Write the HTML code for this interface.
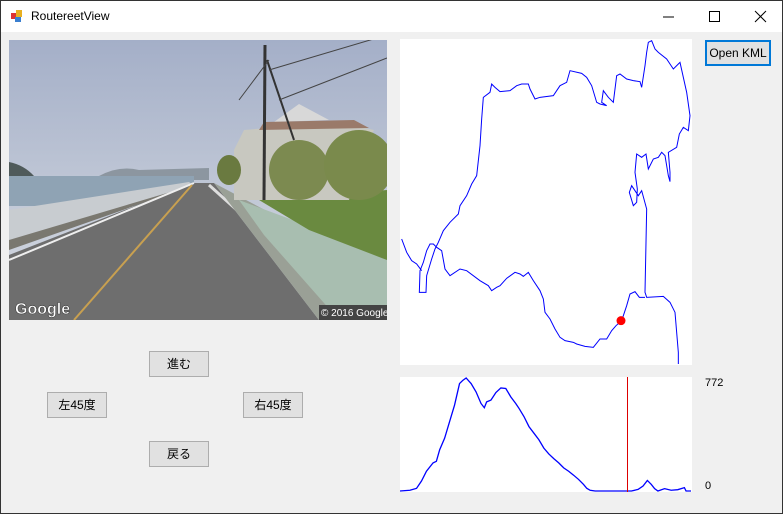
<!DOCTYPE html>
<html><head><meta charset="utf-8">
<style>
body{margin:0;width:783px;height:514px;overflow:hidden;background:#f0f0f0;font-family:"Liberation Sans","Noto Sans CJK JP",sans-serif;position:relative}
#win{position:absolute;left:0;top:0;width:781px;height:512px;border:1px solid #333;background:#f0f0f0}
#titlebar{position:absolute;left:0;top:0;width:781px;height:31px;background:#fff}
#title{position:absolute;left:30px;top:8px;font-size:12px;color:#000}
.btn{position:absolute;width:58px;height:24px;border:1px solid #adadad;background:#e1e1e1;font-size:12px;text-align:center;line-height:24px;color:#000}
.lbl{position:absolute;font-size:11px;color:#000}
svg{position:absolute}
</style></head><body>
<div id="win">
<div id="titlebar">
 <svg style="left:9px;top:8px" width="14" height="14"><rect x="1" y="4" width="6" height="6" fill="#d33"/><rect x="6" y="1" width="6" height="7" fill="#e8b020"/><rect x="5" y="8" width="6" height="5" fill="#3a7fd0"/></svg>
 <div id="title">RoutereetView</div>
 <svg style="left:655px;top:8px" width="120" height="16"><line x1="7" y1="8" x2="18" y2="8" stroke="#000"/><rect x="53.5" y="2.5" width="10" height="10" fill="none" stroke="#000"/><line x1="99" y1="2" x2="110" y2="13" stroke="#000"/><line x1="110" y1="2" x2="99" y2="13" stroke="#000"/></svg>
</div>

<svg style="left:8px;top:39px" width="378" height="280">
 <defs><linearGradient id="sky" x1="0" y1="0" x2="0" y2="1"><stop offset="0" stop-color="#a4afc8"/><stop offset="1" stop-color="#d8dce2"/></linearGradient></defs>
 <rect width="378" height="280" fill="url(#sky)"/>
 <path d="M0,122 Q15,125 25,136 L0,137Z" fill="#4f5a5a"/>
 <path d="M90,136 Q110,125 130,130 L200,128 L200,140 L90,140Z" fill="#8c96a0"/>
 <rect x="0" y="136" width="185" height="30" fill="#8fa3b4"/>
 <path d="M0,170 L180,142 L185,146 L0,200Z" fill="#c8ccd0"/>
 <path d="M0,200 L185,145 L0,210Z" fill="#7a7870"/>
 <path d="M0,215 L185,143 L205,143 L310,280 L0,280Z" fill="#6e6e6e"/>
 <path d="M0,220 L185,143" stroke="#eee" stroke-width="2"/>
 <path d="M65,280 L183,145" stroke="#c8a050" stroke-width="2"/>
 <path d="M200,145 L250,190" stroke="#ddd" stroke-width="3"/>
 <path d="M205,143 L378,235 L378,280 L310,280Z" fill="#9aa096"/>
 <path d="M230,160 L378,215 L378,280 L330,280 L255,195Z" fill="#a8beb0"/>
 <path d="M250,160 L378,150 L378,220 L300,190Z" fill="#6a8a40"/>
 <path d="M225,110 L235,90 L330,82 L365,90 L360,100 L340,160 L225,160Z" fill="#c8c8c0"/>
 <path d="M265,82 L290,64 L320,80Z" fill="#d8d8d8"/>
 <path d="M255,82 L345,80 L360,88 L250,90Z" fill="#9a7a6a"/>
 <ellipse cx="290" cy="130" rx="30" ry="30" fill="#7c8a50"/>
 <ellipse cx="350" cy="125" rx="35" ry="35" fill="#7a8a4c"/>
 <ellipse cx="220" cy="130" rx="12" ry="15" fill="#6a7a40"/>
 <line x1="256" y1="5" x2="255" y2="160" stroke="#333" stroke-width="3"/>
 <line x1="258" y1="20" x2="285" y2="100" stroke="#333" stroke-width="2"/>
 <path d="M260,30 L378,-5 M270,60 L378,18 M230,60 L260,20" stroke="#444" stroke-width="1" fill="none"/>
 <text x="6" y="274" font-size="16" font-weight="bold" fill="#fff" stroke="#333" stroke-width="0.5">Google</text>
 <rect x="310" y="265" width="68" height="15" fill="#444"/>
 <text x="312" y="276" font-size="10" fill="#fff">© 2016 Google</text>
</svg>

<div class="btn" style="left:148px;top:350px">進む</div>
<div class="btn" style="left:46px;top:391px">左45度</div>
<div class="btn" style="left:242px;top:391px">右45度</div>
<div class="btn" style="left:148px;top:440px">戻る</div>
<div class="btn" style="left:704px;top:39px;width:62px;height:22px;line-height:22px;border:2px solid #0078d7">Open KML</div>

<svg id="map" style="left:399px;top:38px" width="292" height="326"></svg>
<svg id="elev" style="left:399px;top:376px" width="292" height="115"></svg>
<div class="lbl" style="left:704px;top:376px">772</div>
<div class="lbl" style="left:704px;top:479px">0</div>
</div>
<script>
const distances=[0,30,50,65,80,100,110,120,135,150,165,180,190,200,215,230,245,255,262,275,290,305,320,335,350,360,375,390,405,420,435,450,465,480,495,510,525,540,555,565,575,590,700,720,735,748,760,770,780,800,820,840,860,865,880];
const elevations=[0,5,18,68,135,192,203,282,361,474,587,734,756,772,734,677,598,569,609,621,673,704,700,643,598,564,508,440,395,350,293,253,221,192,158,135,108,79,45,18,5,0,0,11,34,72,45,16,0,16,5,9,23,0,0];
const currentDistance=688;
const maxDist=880,maxElev=772;
const routeX=[835,835,825,810,790,740,735,740,725,715,705,695,688,700,710,712,705,710,725,738,745,760,775,785,795,805,810,810,805,830,838,850,865,870,860,840,835,820,800,775,765,755,745,740,735,725,720,700,680,660,650,640,625,610,605,620,600,590,575,560,545,510,500,480,460,420,405,390,385,365,350,330,300,285,275,270,250,245,240,230,215,200,180,175,150,130,115,105,95,80,78,58,60,70,80,90,100,110,125,135,150,180,200,240,265,275,290,300,320,345,360,370,385,400,420,430,435,450,465,480,495,520,530,555,580,600,620,635,648,665,680,690,705,718,735];
const routeY=[975,940,820,790,772,775,760,510,455,470,455,440,460,500,490,450,400,345,355,345,390,360,355,340,350,410,428,400,340,325,285,265,275,230,160,70,75,90,60,40,30,5,10,40,80,145,128,125,120,105,110,190,175,155,190,200,195,190,140,115,103,95,130,140,170,175,180,150,135,135,140,155,158,145,135,160,175,240,320,410,435,470,500,525,550,575,610,630,660,710,760,760,695,670,635,615,615,625,635,690,710,690,695,725,740,755,745,740,718,700,705,712,700,725,755,780,820,840,870,895,905,910,915,922,925,900,900,875,860,845,800,765,758,775,775];
const branchX=[5,20,35,50,65],branchY=[600,640,665,675,695];
const markerX=663,markerY=845;
const NS='http://www.w3.org/2000/svg';
const map=document.getElementById('map'),elev=document.getElementById('elev');
function mk(p,t,a){const e=document.createElementNS(NS,t);for(const k in a)e.setAttribute(k,a[k]);p.appendChild(e);return e;}
mk(map,'rect',{width:292,height:326,fill:'#fff'});
const mx=v=>v/3,my=v=>v/3;
let r=mk(map,'polyline',{points:routeX.map((x,i)=>mx(x)+','+my(routeY[i])).join(' '),fill:'none',stroke:'#0000ff','stroke-width':1});


let b=mk(map,'polyline',{points:branchX.map((x,i)=>mx(x)+','+my(branchY[i])).join(' '),fill:'none',stroke:'#0000ff','stroke-width':1});


let m=mk(map,'circle',{cx:mx(markerX),cy:my(markerY),r:4.5,fill:'#f00'});


mk(elev,'rect',{width:292,height:115,fill:'#fff'});
const ex=d=>d/maxDist*291,ey=v=>114-v/maxElev*113;
let l=mk(elev,'polyline',{points:distances.map((d,i)=>ex(d)+','+ey(elevations[i])).join(' '),fill:'none',stroke:'#0000ff','stroke-width':1.3});


let c=mk(elev,'line',{x1:ex(currentDistance),x2:ex(currentDistance),y1:0,y2:115,stroke:'#d00','stroke-width':1});


</script>
</body></html>
